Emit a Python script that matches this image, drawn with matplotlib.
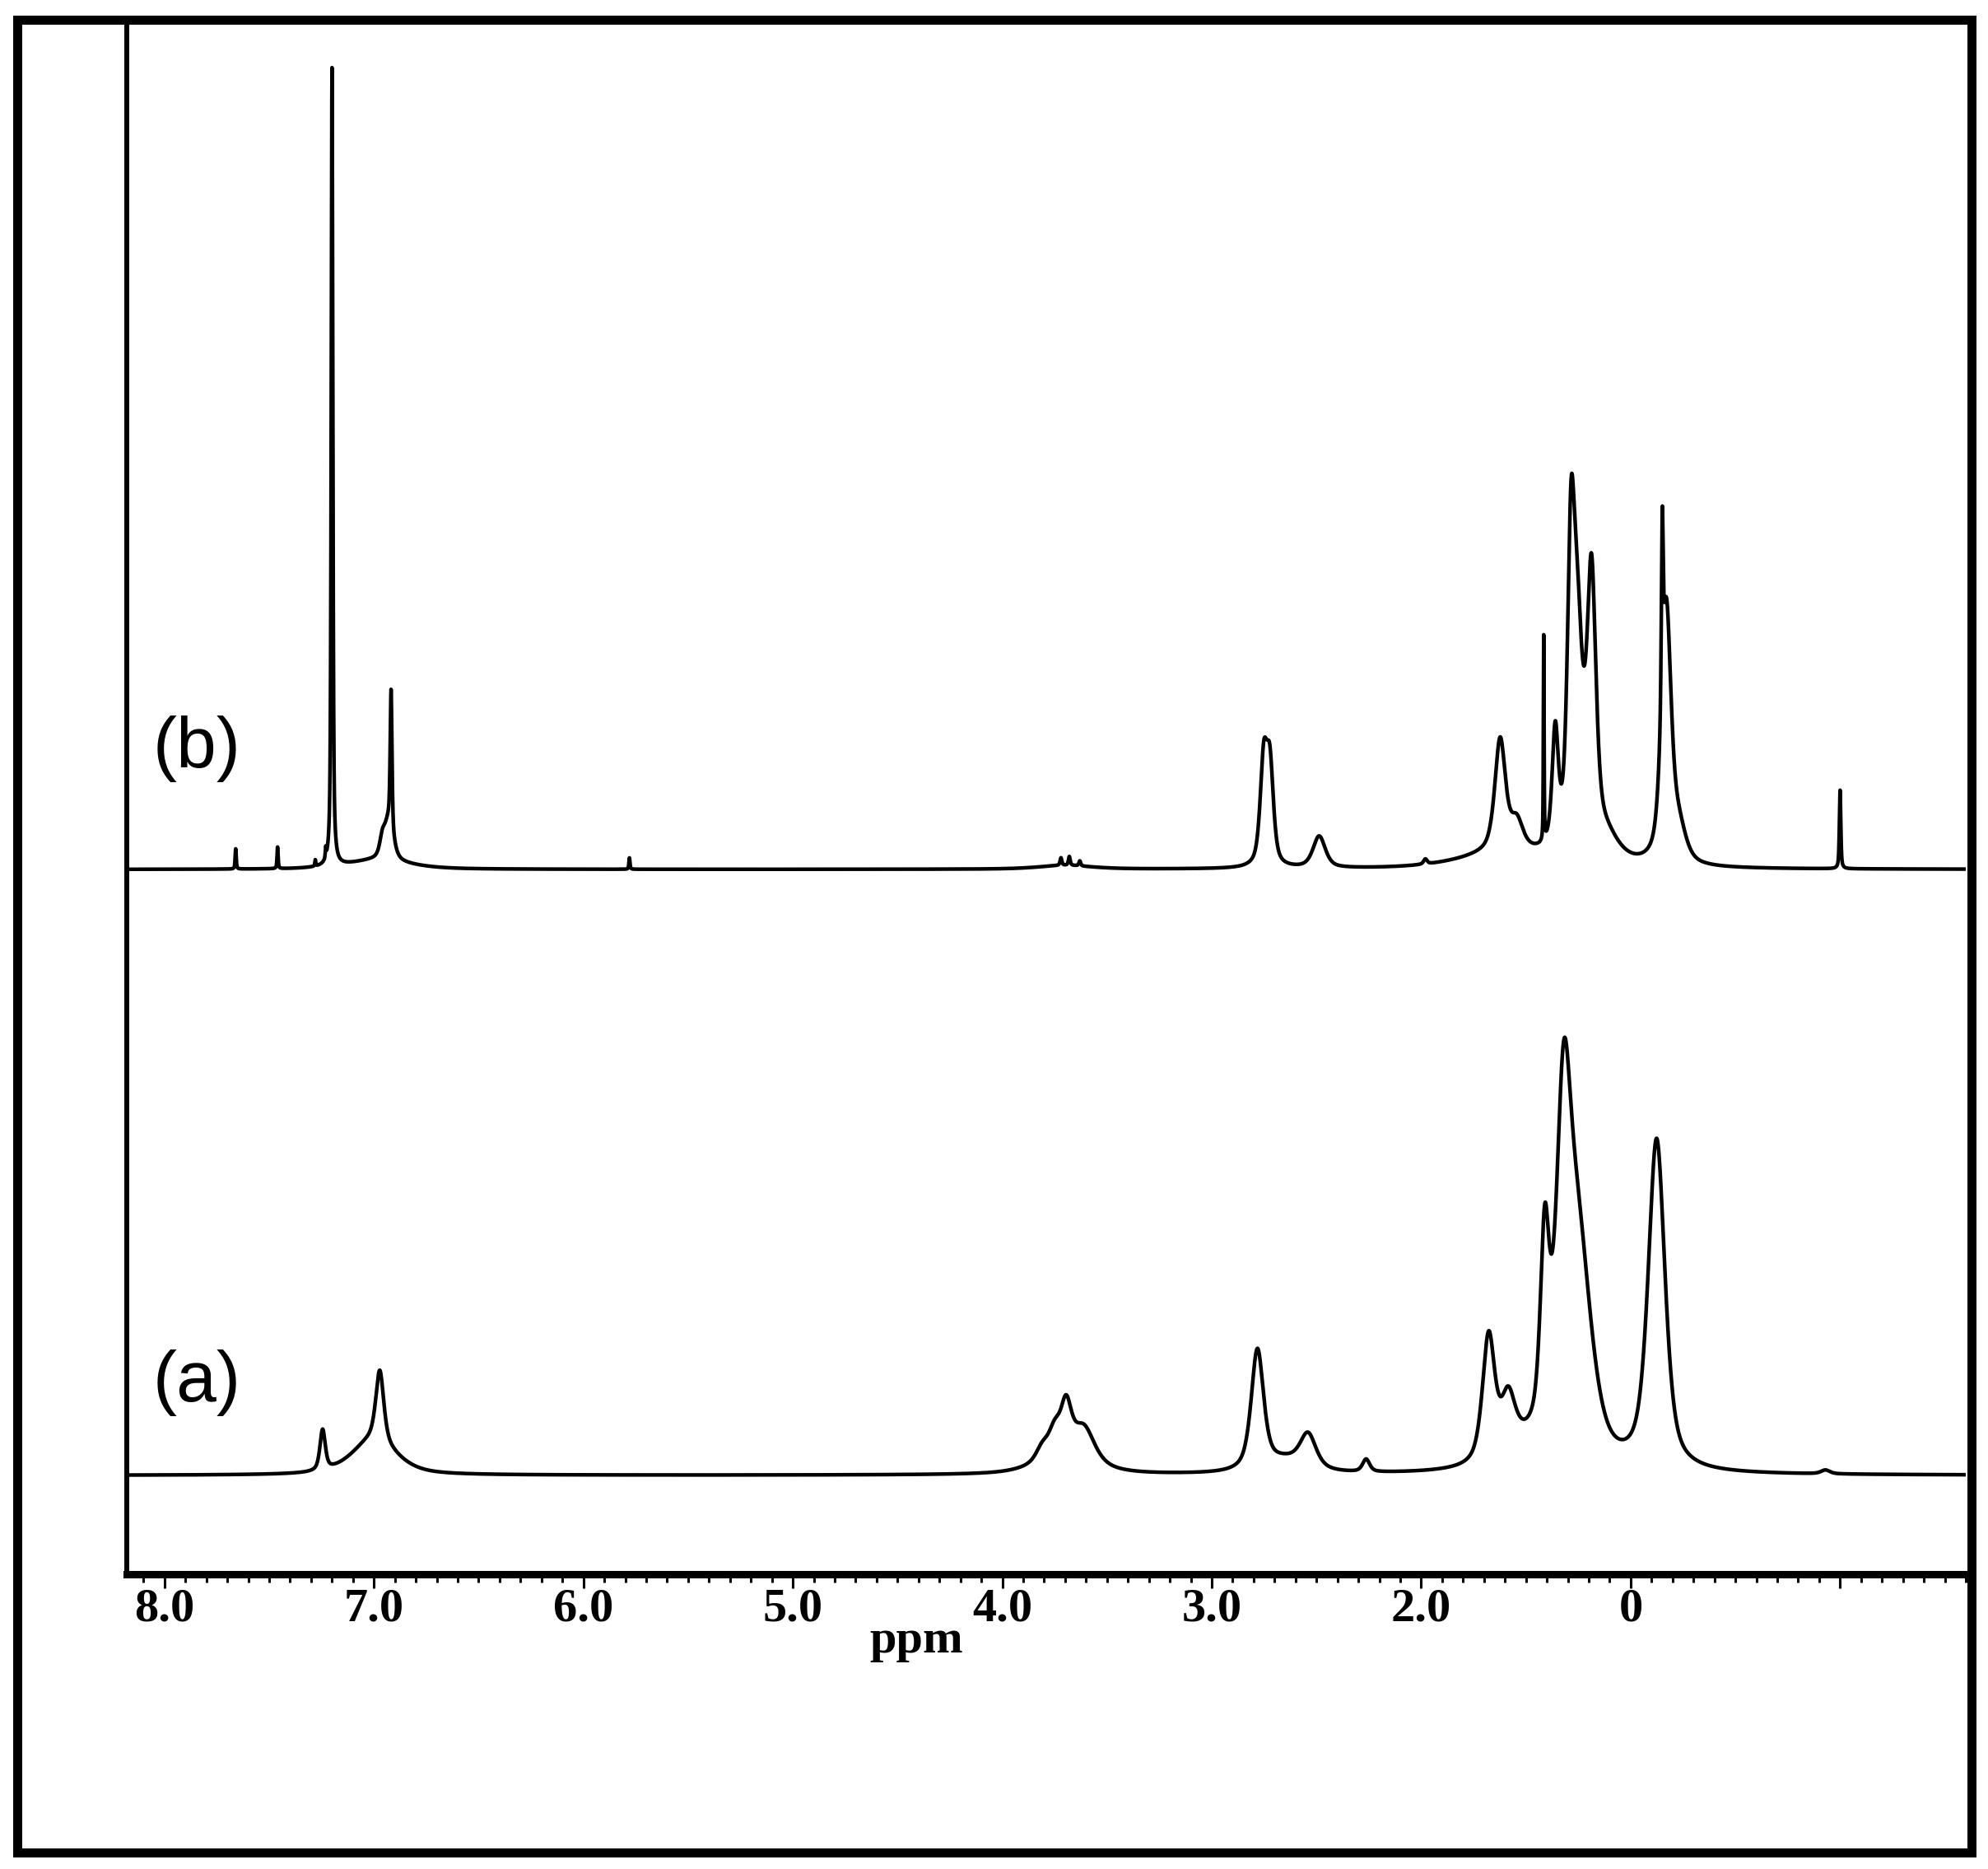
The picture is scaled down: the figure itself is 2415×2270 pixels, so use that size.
import matplotlib
matplotlib.use("Agg")
import matplotlib.pyplot as plt
import numpy as np
from matplotlib.patches import Rectangle
from matplotlib.ticker import MultipleLocator

# peak tables: centre (ppm), height, full width (ppm)
a_center = [7.245, 6.972, 7.00, 3.81, 3.75, 3.695, 3.61, 3.70, 2.782, 2.65, 2.54,
            2.263, 1.678, 1.585, 1.50, 1.41, 1.32, 1.25, 0.876, 0.07]
a_height = [32, 56, 28, 10, 20, 36, 26, 14, 94, 10, 26,
            10, 99, 42, 14, 150, 240, 165, 260, 3]
a_width = [0.03, 0.045, 0.25, 0.07, 0.07, 0.06, 0.12, 0.30, 0.07, 0.25, 0.09,
           0.04, 0.07, 0.08, 0.25, 0.05, 0.085, 0.15, 0.095, 0.05]

b_center = [7.66, 7.46, 7.28, 7.23, 7.200, 6.98, 6.96, 6.918, 6.93, 5.78,
            3.72, 3.68, 3.63, 3.70, 2.752, 2.722, 2.487, 1.98, 1.60,
            1.623, 1.544, 1.415, 1.36, 1.285, 1.255, 1.187, 1.12,
            0.849, 0.83, 0.77, 0.0]
b_height = [16, 17, 5, 8, 630, 7, 12, 110, 30, 9,
            6, 7, 4, 3, 80, 75, 25, 4, 12,
            88, 22, 162, 90, 205, 165, 212, 18,
            140, 200, 25, 62]
b_width = [0.006, 0.006, 0.005, 0.005, 0.009, 0.35, 0.03, 0.01, 0.05, 0.006,
           0.01, 0.01, 0.01, 0.3, 0.04, 0.04, 0.07, 0.02, 0.5,
           0.06, 0.07, 0.004, 0.035, 0.04, 0.06, 0.05, 0.15,
           0.01, 0.055, 0.08, 0.008]

tick_pos = [8, 7, 6, 5, 4, 3, 2, 1, 0]
tick_labels = ["8.0", "7.0", "6.0", "5.0", "4.0", "3.0", "2.0", "0", ""]


def spectrum(ppm, centers, heights, widths, eta=0.6):
    y = np.zeros_like(ppm)
    for c, h, w in zip(centers, heights, widths):
        r = (ppm - c) / (w / 2)
        y += h * (eta / (1 + r ** 2) + (1 - eta) * np.exp(-np.log(2) * r ** 2))
    return y


W, H = 2415, 2270
fig = plt.figure(figsize=(W / 100, H / 100), dpi=100)
ax = fig.add_axes([154 / W, 358 / H, (2388 - 154) / W, (2244 - 358) / H])

ppm = np.linspace(8.18, -0.6, 20000)
ax.plot(ppm, 78 + spectrum(ppm, a_center, a_height, a_width), color="black", lw=3.2)
ax.plot(ppm, 556 + spectrum(ppm, b_center, b_height, b_width), color="black", lw=3.2)

ax.set_xlim(8.18, -0.6)
ax.set_ylim(0, 1225)

for s in ["top", "right"]:
    ax.spines[s].set_visible(False)
ax.spines["left"].set_linewidth(4.3)
ax.spines["bottom"].set_linewidth(6.5)
ax.set_yticks([])

ax.set_xticks(tick_pos, tick_labels, fontfamily="Liberation Serif",
              fontweight="bold", fontsize=42, va="baseline")
ax.xaxis.set_minor_locator(MultipleLocator(0.1))
ax.tick_params(axis="x", which="major", length=12, width=2.2, pad=29)
ax.tick_params(axis="x", which="minor", length=7, width=2.2)

ax.set_xlabel("ppm", fontfamily="Liberation Serif", fontweight="bold",
              fontsize=42, va="baseline")
ax.xaxis.set_label_coords(0.4293, -0.0505)

ax.text(7.847, 636.7, "(b)", fontfamily="Liberation Sans", fontsize=63,
        ha="center", va="baseline")
ax.text(7.847, 136.7, "(a)", fontfamily="Liberation Sans", fontsize=63,
        ha="center", va="baseline")

frame = Rectangle((21 / W, (H - 2250) / H), (2395 - 21) / W, (2250 - 24) / H,
                  transform=fig.transFigure, fill=False, edgecolor="black",
                  lw=7.9, zorder=10)
fig.add_artist(frame)

fig.savefig("out.png", dpi=100)
